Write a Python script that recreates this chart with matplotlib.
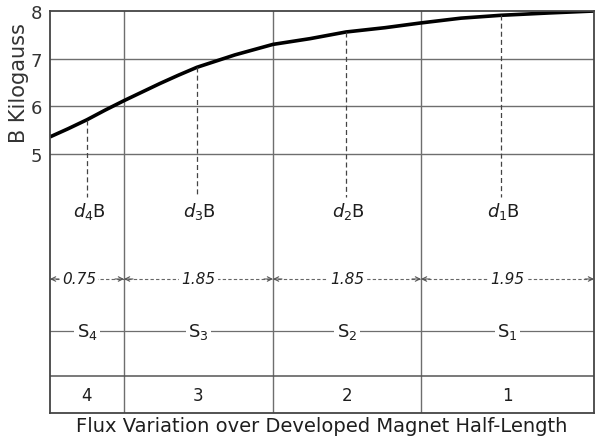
import numpy as np
import matplotlib
matplotlib.use('Agg')
import matplotlib.pyplot as plt

# Curva de B ao longo da meia-altura desenvolvida do ímã (unidades do desenho)
curva_x = [0, 18, 37, 55, 74, 92, 110, 128, 147, 185, 223, 260, 296, 335, 371, 411, 451, 500, 544]
curva_b = [5.36, 5.53, 5.72, 5.92, 6.12, 6.30, 6.48, 6.65, 6.82, 7.08, 7.30, 7.42, 7.56, 7.65,
           7.75, 7.85, 7.91, 7.96, 8.0]

# Seções (da esquerda para a direita)
secoes = ['4', '3', '2', '1']
bordas = [0, 74, 223, 371, 544]
comprimentos = ['0.75', '1.85', '1.85', '1.95']
pos_db = [37, 147, 296, 451]
rotulos_db = [r'$d_4$B', r'$d_3$B', r'$d_2$B', r'$d_1$B']
rotulos_s = [r'S$_4$', r'S$_3$', r'S$_2$', r'S$_1$']
ticks_b = [5, 6, 7, 8]

cinza = '#6e6e6e'
escuro = '#1e1e1e'

fig = plt.figure(figsize=(5.97, 4.39), dpi=100)
ax = fig.add_axes([50 / 597, 1 - 414 / 439, 544 / 597, 402 / 439])
ax.set_xlim(bordas[0], bordas[-1])
ax.set_ylim(-0.43, 8)

# linhas horizontais da grade e divisões verticais das seções
for b in ticks_b[:-1]:
    ax.axhline(b, color=cinza, lw=1.0)
for xb in bordas[1:-1]:
    ax.axvline(xb, color=cinza, lw=1.0)

# curva de fluxo
ax.plot(curva_x, curva_b, color='black', lw=2.6, solid_capstyle='butt', solid_joinstyle='round')

# linhas tracejadas de cada d B
for x, rot in zip(pos_db, rotulos_db):
    topo = np.interp(x, curva_x, curva_b)
    ax.plot([x, x], [topo, 4.1], color='#444444', lw=0.9, ls=(0, (4, 2.5)))
    ax.text(x + 2, 3.82, rot, ha='center', va='center', fontsize=13, color=escuro)

meios = [(bordas[i] + bordas[i + 1]) / 2 for i in range(len(secoes))]

# cotas tracejadas com setas
y_cota = 2.38
ax.plot([bordas[0], bordas[-1]], [y_cota, y_cota], color='#666666', lw=0.8, ls=(0, (3, 2)))
for i in range(len(secoes)):
    for xb, sinal in [(bordas[i], 1), (bordas[i + 1], -1)]:
        ax.annotate('', xy=(xb, y_cota), xytext=(xb + sinal * 9, y_cota),
                    arrowprops=dict(arrowstyle='->', color='#555555', lw=0.8,
                                    shrinkA=0, shrinkB=0, mutation_scale=8))
    ax.text(meios[i] - (8 if i == 0 else 0), y_cota, comprimentos[i], ha='center', va='center',
            fontsize=11, style='italic', color=escuro,
            bbox=dict(facecolor='white', edgecolor='none', pad=1.5))

# linha S com rótulos
y_s = 1.29
ax.plot([bordas[0], bordas[-1]], [y_s, y_s], color=cinza, lw=0.9)
for m, rot in zip(meios, rotulos_s):
    ax.text(m, y_s, rot, ha='center', va='center', fontsize=13, color=escuro,
            bbox=dict(facecolor='white', edgecolor='none', pad=2))

# faixa inferior com número das seções
ax.axhline(0.34, color='#555555', lw=1.1)
for m, s in zip(meios, secoes):
    ax.text(m, -0.05, s, ha='center', va='center', fontsize=12, color=escuro)

for lado in ['left', 'right', 'top', 'bottom']:
    ax.spines[lado].set_color('#444444')
    ax.spines[lado].set_linewidth(1.3)

ax.set_xticks([])
ax.set_yticks(ticks_b)
ax.set_yticklabels([str(t) for t in ticks_b], fontsize=13, color='#333333')
ax.tick_params(axis='y', length=0, pad=6)

ax.set_ylabel('B Kilogauss', fontsize=15, color='#333333')
ax.yaxis.set_label_coords(-0.038, 0.823)
ax.set_xlabel('Flux Variation over Developed Magnet Half-Length', fontsize=14,
              color=escuro, labelpad=2)

fig.savefig('out.png', dpi=100, facecolor='white')
